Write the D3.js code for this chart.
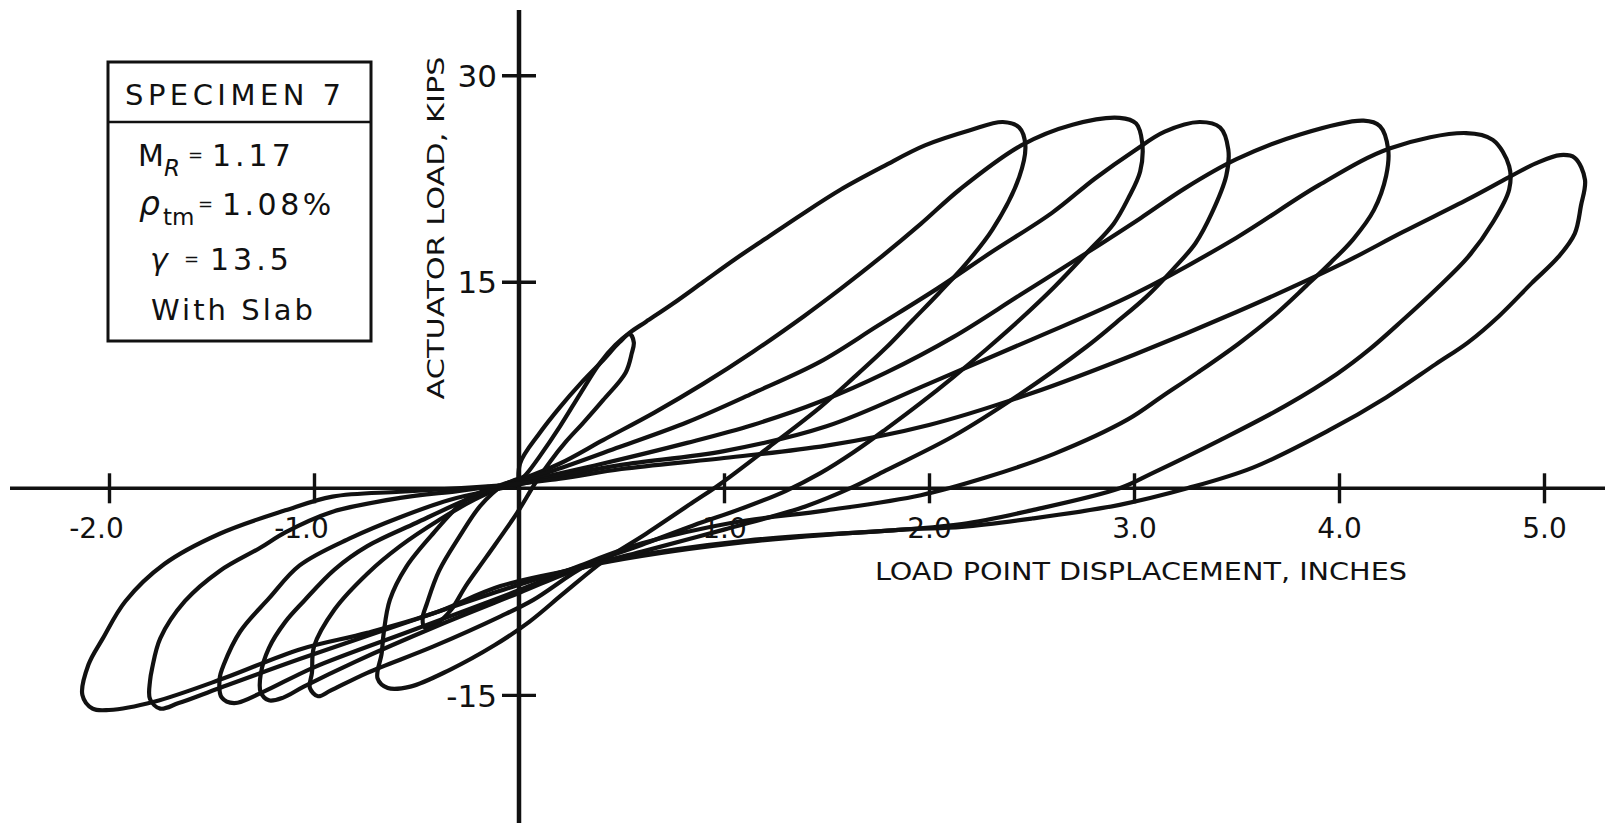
<!DOCTYPE html>
<html>
<head>
<meta charset="utf-8">
<script src="https://cdn.jsdelivr.net/npm/d3@7"></script>
<style>
  html, body { margin: 0; padding: 0; background: #fff; }
  text { font-family: "DejaVu Sans", sans-serif; fill: #111; }
</style>
</head>
<body>
<div id="chart"></div>
<script>
// displacement (in) , load (kips), one array per cycle
const cycle1 = [[0,0],[0.005,1.8],[0.10,4.0],[0.20,5.9],[0.30,7.6],[0.41,9.3],[0.49,10.6],[0.54,11.2],[0.56,10.6],[0.55,9.8],[0.52,8.4],[0.41,6.4],[0.31,4.7],[0.23,3.4],[0.15,1.9],[0.08,0.4],[-0.01,-1.8],[-0.16,-5.0],[-0.26,-7.1],[-0.33,-8.8],[-0.40,-9.8],[-0.46,-10.1],[-0.47,-9.4],[-0.45,-8.4],[-0.39,-6.0],[-0.29,-3.5],[-0.19,-1.3],[-0.08,0.2],[0.02,0.8]];
const cycle2 = [[0.02,0.8],[0.04,1.1],[0.10,2.3],[0.20,4.5],[0.30,6.9],[0.395,9.1],[0.47,10.4],[0.54,11.3],[0.62,12.1],[0.75,13.4],[0.9,15.0],[1.05,16.6],[1.2,18.1],[1.37,19.8],[1.57,21.7],[1.78,23.4],[1.98,24.9],[2.2,26.0],[2.36,26.6],[2.44,26.2],[2.47,24.9],[2.44,22.6],[2.31,18.8],[2.18,16.3],[2.05,14.2],[1.92,12.2],[1.79,10.2],[1.63,8.0],[1.47,5.9],[1.22,3.0],[0.98,0.3],[0.85,-1.0],[0.62,-3.3],[0.42,-5.2],[0.22,-7.6],[0.05,-9.7],[-0.12,-11.4],[-0.34,-13.2],[-0.53,-14.4],[-0.64,-14.5],[-0.69,-13.8],[-0.67,-12.0],[-0.66,-10.5],[-0.63,-8.1],[-0.55,-5.7],[-0.42,-3.3],[-0.26,-0.85],[-0.12,0.1],[0.02,0.7]];
const cycle3 = [[0.02,0.7],[0.2,1.8],[0.41,3.5],[0.66,5.5],[0.9,7.6],[1.14,9.9],[1.39,12.5],[1.57,14.5],[1.75,16.6],[1.96,19.2],[2.15,21.7],[2.45,24.9],[2.7,26.4],[2.93,26.9],[3.01,26.5],[3.04,25.1],[3.03,23.0],[2.97,21.0],[2.9,19.2],[2.77,17.1],[2.61,14.6],[2.44,12.2],[2.28,10.1],[2.12,8.1],[1.96,6.2],[1.79,4.3],[1.63,2.6],[1.47,1.1],[1.3,-0.2],[1.1,-1.4],[0.85,-2.7],[0.6,-4.1],[0.33,-5.6],[0.07,-8.1],[-0.09,-9.3],[-0.42,-11.5],[-0.74,-13.4],[-0.92,-14.7],[-0.98,-15.1],[-1.02,-14.5],[-1.01,-13.4],[-1.0,-11.5],[-0.9,-8.8],[-0.74,-6.2],[-0.58,-4.2],[-0.39,-2.3],[-0.22,-0.85],[-0.05,0.3]];
const cycle4 = [[-0.05,0.3],[0.17,1.3],[0.49,3.0],[0.82,4.8],[1.14,6.9],[1.47,9.2],[1.75,11.8],[2.04,14.5],[2.3,17.1],[2.6,20.0],[2.81,22.5],[3.0,24.5],[3.15,25.9],[3.32,26.6],[3.42,26.2],[3.46,24.6],[3.45,22.7],[3.38,20.0],[3.30,17.8],[3.19,15.9],[3.06,13.9],[2.91,12.0],[2.77,10.3],[2.44,6.8],[2.12,3.8],[1.79,1.3],[1.63,0.1],[1.4,-1.3],[1.0,-3.0],[0.6,-4.6],[0.3,-5.8],[0.0,-7.6],[-0.4,-10.0],[-0.8,-12.6],[-1.05,-14.4],[-1.15,-15.2],[-1.22,-15.4],[-1.26,-14.8],[-1.26,-13.5],[-1.22,-11.6],[-1.14,-9.7],[-1.05,-8.2],[-0.9,-5.9],[-0.74,-4.2],[-0.5,-2.5],[-0.26,-0.85],[-0.1,0.1]];
const cycle5 = [[-0.1,0.1],[0.41,1.8],[0.82,3.3],[1.14,4.6],[1.47,6.3],[1.79,8.4],[2.12,11.0],[2.44,14.0],[2.77,17.1],[3.03,19.6],[3.25,21.8],[3.5,23.9],[3.81,25.7],[4.12,26.7],[4.2,26.3],[4.24,24.6],[4.23,22.7],[4.17,20.2],[4.07,18.1],[3.96,16.4],[3.84,14.7],[3.68,12.5],[3.51,10.5],[3.31,8.4],[3.14,6.7],[2.97,5.0],[2.61,2.5],[2.28,0.8],[1.96,-0.5],[1.5,-1.6],[1.04,-2.5],[0.6,-4.0],[0.3,-5.6],[0.0,-7.4],[-0.5,-10.2],[-1.0,-13.0],[-1.25,-14.8],[-1.39,-15.6],[-1.45,-15.2],[-1.46,-13.8],[-1.44,-12.8],[-1.36,-10.4],[-1.22,-8.0],[-1.07,-5.6],[-0.82,-3.6],[-0.58,-2.1],[-0.34,-0.85],[-0.15,-0.2]];
const cycle6 = [[-0.15,-0.2],[0.2,0.9],[0.5,1.7],[1.0,2.7],[1.5,4.5],[2.0,7.6],[2.5,10.8],[3.0,14.1],[3.5,18.2],[3.9,22.0],[4.25,24.7],[4.62,25.8],[4.75,25.3],[4.83,23.4],[4.83,21.7],[4.75,19.3],[4.63,16.8],[4.47,14.4],[4.31,12.2],[4.15,10.1],[3.99,8.3],[3.74,6.0],[3.42,3.5],[3.09,1.1],[2.93,0.0],[2.5,-1.6],[2.16,-2.6],[1.87,-3.0],[1.11,-3.8],[0.45,-5.2],[0.3,-5.7],[0.0,-7.0],[-0.5,-9.5],[-1.07,-12.4],[-1.46,-14.5],[-1.66,-15.6],[-1.75,-16.0],[-1.80,-15.3],[-1.80,-14.0],[-1.79,-13.1],[-1.75,-10.9],[-1.63,-8.2],[-1.46,-6.0],[-1.26,-4.3],[-1.14,-3.2],[-0.92,-1.75],[-0.58,-0.7],[-0.3,-0.2],[-0.15,0.1]];
const cycle7 = [[-0.15,0.1],[0.2,0.7],[0.5,1.4],[1.0,2.2],[1.5,3.1],[2.0,4.6],[2.5,6.9],[3.0,9.7],[3.5,12.8],[4.0,16.2],[4.31,18.6],[4.63,21.0],[4.83,22.6],[4.96,23.6],[5.08,24.2],[5.15,24.0],[5.2,22.4],[5.18,20.5],[5.15,18.5],[5.07,16.8],[4.94,14.9],[4.78,12.5],[4.63,10.6],[4.47,9.0],[4.23,6.6],[3.95,4.2],[3.58,1.5],[3.26,0.0],[2.93,-1.2],[2.5,-2.2],[2.16,-2.8],[1.87,-3.0],[1.11,-3.9],[0.45,-5.3],[0.3,-5.8],[-0.09,-7.1],[-0.42,-9.1],[-0.74,-10.5],[-1.07,-11.7],[-1.44,-13.8],[-1.78,-15.5],[-2.0,-16.1],[-2.08,-16.0],[-2.13,-15.0],[-2.10,-12.8],[-2.03,-10.9],[-1.92,-8.2],[-1.73,-5.5],[-1.46,-3.3],[-1.14,-1.6],[-0.91,-0.6],[-0.58,-0.25],[-0.3,0.0],[-0.1,0.2]];

const cycles = [cycle1, cycle2, cycle3, cycle4, cycle5, cycle6, cycle7];

const xTickValues = [-2, -1, 1, 2, 3, 4, 5];
const xTickLabels = ["-2.0", "-1.0", "1.0", "2.0", "3.0", "4.0", "5.0"];
const yTickValues = [30, 15, -15];
const yTickLabels = ["30", "15", "-15"];

const xTitle = "LOAD POINT DISPLACEMENT, INCHES";
const yTitle = "ACTUATOR LOAD, KIPS";
const legendTitle = "SPECIMEN  7";

const width = 1605, height = 823;

const svg = d3.select("#chart")
              .append("svg")
              .attr("width", width)
              .attr("height", height);

const x = d3.scaleLinear()
            .domain([-2, 5])
            .range([109, 1544]);

const y = d3.scaleLinear()
            .domain([-15, 30])
            .range([694.85, 75.2]);

const x0 = x(0), y0 = y(0);

// X labels (drawn first, curves run over them like in the original)
const xAxis = svg.append("g")
                 .attr("transform", `translate(0, ${y0 - 15})`)
                 .call(d3.axisBottom(x)
                         .tickValues(xTickValues)
                         .tickSize(30)
                         .tickFormat((d, i) => xTickLabels[i]));
xAxis.select(".domain").remove();
xAxis.selectAll("line").attr("stroke", "#111").attr("stroke-width", 3.4);
xAxis.selectAll("text")
     .attr("y", 65)
     .attr("dy", 0)
     .attr("dx", d => d < 0 ? -13 : 0)
     .style("font-size", "28px")
     .style("font-family", "DejaVu Sans, sans-serif")
     .attr("fill", "#111");

// Y axis ticks
const yAxis = svg.append("g")
                 .attr("transform", `translate(${x0 + 17}, 0)`)
                 .call(d3.axisLeft(y)
                         .tickValues(yTickValues)
                         .tickSize(34)
                         .tickFormat((d, i) => yTickLabels[i]));
yAxis.select(".domain").remove();
yAxis.selectAll("line").attr("stroke", "#111").attr("stroke-width", 3.4);
yAxis.selectAll("text")
     .attr("x", -39)
     .attr("dy", "0.36em")
     .style("font-size", "31px")
     .style("font-family", "DejaVu Sans, sans-serif")
     .attr("fill", "#111");

// axis lines through the origin
svg.append("line")
   .attr("x1", 10).attr("x2", width)
   .attr("y1", y0).attr("y2", y0)
   .attr("stroke", "#111").attr("stroke-width", 3.4);

svg.append("line")
   .attr("x1", x0).attr("x2", x0)
   .attr("y1", 10).attr("y2", height)
   .attr("stroke", "#111").attr("stroke-width", 4.5);

// hysteresis loops
const line = d3.line()
               .x(d => x(d[0]))
               .y(d => y(d[1]))
               .curve(d3.curveCatmullRom.alpha(0.5));

svg.selectAll(".cycle")
   .data(cycles)
   .join("path")
   .attr("class", "cycle")
   .attr("fill", "none")
   .attr("stroke", "#111")
   .attr("stroke-width", 4.2)
   .attr("stroke-linejoin", "round")
   .attr("stroke-linecap", "round")
   .attr("d", d => line(d));

// axis titles
svg.append("text")
   .attr("x", 1141)
   .attr("y", 580)
   .attr("text-anchor", "middle")
   .attr("textLength", 532)
   .attr("lengthAdjust", "spacingAndGlyphs")
   .style("font-family", "DejaVu Sans Condensed, DejaVu Sans, sans-serif")
   .style("font-size", "24px")
   .text(xTitle);

svg.append("text")
   .attr("transform", `translate(444, 228) rotate(-90)`)
   .attr("text-anchor", "middle")
   .attr("textLength", 343)
   .attr("lengthAdjust", "spacingAndGlyphs")
   .style("font-size", "23px")
   .text(yTitle);

// Legend box
const legend = svg.append("g");

legend.append("rect")
      .attr("x", 108).attr("y", 62)
      .attr("width", 263).attr("height", 279)
      .attr("fill", "#fff")
      .attr("stroke", "#111")
      .attr("stroke-width", 3);

legend.append("line")
      .attr("x1", 108).attr("x2", 371)
      .attr("y1", 122).attr("y2", 122)
      .attr("stroke", "#111")
      .attr("stroke-width", 2.4);

legend.append("text")
      .attr("x", 125).attr("y", 105)
      .attr("textLength", 216)
      .attr("lengthAdjust", "spacing")
      .style("font-size", "29px")
      .text(legendTitle);

// M_R = 1.17
const mr = legend.append("text").attr("y", 166).style("font-size", "30px");
mr.append("tspan").attr("x", 138).text("M");
mr.append("tspan").attr("dy", 10).style("font-size", "23px").style("font-style", "italic").text("R");
mr.append("tspan").attr("x", 188).attr("dy", -15).style("font-size", "18px").text("=");
mr.append("tspan").attr("x", 212).attr("dy", 5).style("letter-spacing", "4px").text("1.17");

// rho_tm = 1.08%
const rho = legend.append("text").attr("y", 215).style("font-size", "30px");
rho.append("tspan").attr("x", 139).style("font-style", "italic").style("font-size", "33px").text("ρ");
rho.append("tspan").attr("x", 163).attr("dy", 10).style("font-size", "23px").text("tm");
rho.append("tspan").attr("x", 198).attr("dy", -15).style("font-size", "18px").text("=");
rho.append("tspan").attr("x", 222).attr("dy", 5).style("letter-spacing", "3.5px").text("1.08%");

// gamma = 13.5
const gam = legend.append("text").attr("y", 270).style("font-size", "30px");
gam.append("tspan").attr("x", 150).style("font-style", "italic").text("γ");
gam.append("tspan").attr("x", 184).attr("dy", -5).style("font-size", "18px").text("=");
gam.append("tspan").attr("x", 210).attr("dy", 5).style("letter-spacing", "4px").text("13.5");

legend.append("text")
      .attr("x", 151).attr("y", 320)
      .attr("textLength", 162)
      .attr("lengthAdjust", "spacing")
      .style("font-size", "29px")
      .text("With Slab");
</script>
</body>
</html>
